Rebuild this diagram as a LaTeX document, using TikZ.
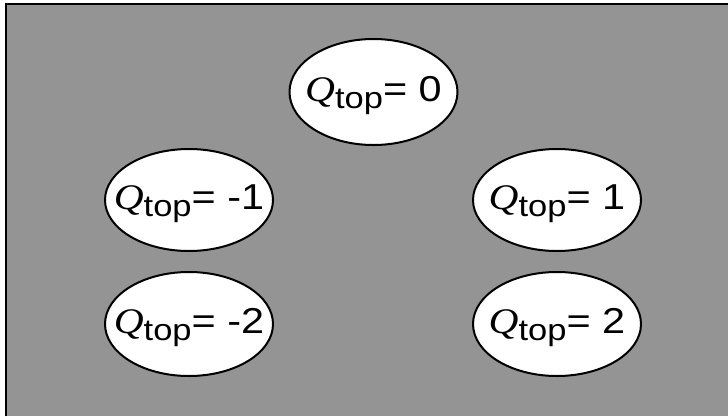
\documentclass[tikz,border=0pt]{standalone}
\usepackage{fontspec}
\setmainfont{Liberation Sans}
\newfontfamily\qserif{Liberation Serif}
\usetikzlibrary{shapes.geometric}
\newcommand{\qlab}[1]{\scalebox{1.15}[1]{\fontsize{36}{40}\selectfont{\qserif\itshape Q}\raisebox{-7pt}{\fontsize{30}{34}\selectfont top}= #1}}
\tikzset{
  state/.style={ellipse, draw=black, line width=2pt, fill=white, inner sep=0pt,
    minimum width=168pt, minimum height=104pt},
  lab/.style={anchor=base, inner sep=0pt, text=black}
}
\begin{document}
\begin{tikzpicture}[x=1pt,y=-1pt]
\useasboundingbox (0,0) rectangle (728,416);
\fill[black!42] (6,4) rectangle (728,416);
\draw[line width=2pt] (6,416) -- (6,4) -- (728,4);
\node[state, minimum height=106pt] (e0) at (373.5,92) {};
\node[state, minimum height=102pt] (em1) at (189,200) {};
\node[state, minimum height=102pt] (e1) at (557,200) {};
\node[state] (em2) at (189,324) {};
\node[state] (e2) at (557,324) {};
\node[lab] (t0) at (373.5,101) {\qlab{0}};
\node[lab] (tm1) at (189,209) {\qlab{-1}};
\node[lab] (t1) at (557,209) {\qlab{1}};
\node[lab] (tm2) at (189,333) {\qlab{-2}};
\node[lab] (t2) at (557,333) {\qlab{2}};
\end{tikzpicture}
\end{document}
